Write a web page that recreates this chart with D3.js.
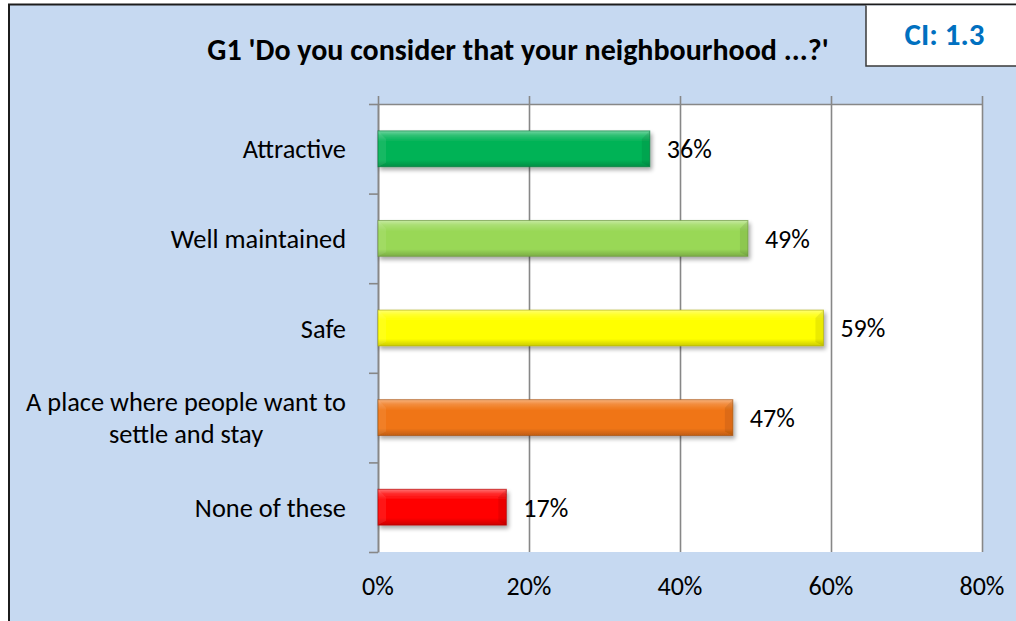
<!DOCTYPE html>
<html><head><meta charset="utf-8">
<script src="https://cdn.jsdelivr.net/npm/d3@7"></script>
<style>
  body { margin: 0; background: #fff; }
  text { font-family: Carlito, Calibri, Lato, sans-serif; fill: #000; }
</style>
</head><body>
<svg id="chart" width="1016" height="621"></svg>
<script>
// Survey answers for question G1
const categories = ["Attractive", "Well maintained", "Safe", "A place where people want to settle and stay", "None of these"];
const values = [0.36, 0.49, 0.59, 0.47, 0.17];
const barColors = ["#02b356", "#99d857", "#ffff00", "#f07515", "#ff0000"];
const tickValues = [0, 0.2, 0.4, 0.6, 0.8];
const titleText = "G1 'Do you consider that your neighbourhood ...?'";
const ciText = "CI: 1.3";

const W = 1016, H = 621;
const plot = { left: 378, right: 982, top: 104, bottom: 552 };

const svg = d3.select("#chart");
const defs = svg.append("defs");

// soft drop shadow under the bars
const shadow = defs.append("filter").attr("id", "barShadow")
  .attr("x", "-10%").attr("y", "-30%").attr("width", "130%").attr("height", "180%");
shadow.append("feGaussianBlur").attr("in", "SourceAlpha").attr("stdDeviation", 2.2).attr("result", "b");
shadow.append("feOffset").attr("in", "b").attr("dx", 2).attr("dy", 3).attr("result", "o");
shadow.append("feComponentTransfer").attr("in", "o").attr("result", "s")
  .append("feFuncA").attr("type", "linear").attr("slope", 0.35);
const merge = shadow.append("feMerge");
merge.append("feMergeNode").attr("in", "s");
merge.append("feMergeNode").attr("in", "SourceGraphic");

// vertical sheen across each bar face
const sheen = defs.append("linearGradient").attr("id", "sheen")
  .attr("x1", 0).attr("y1", 0).attr("x2", 0).attr("y2", 1);
[[0, "#fff", 0.45], [0.12, "#fff", 0.18], [0.3, "#fff", 0.0], [0.8, "#000", 0.0], [1, "#000", 0.2]]
  .forEach(([o, c, a]) => sheen.append("stop").attr("offset", o).attr("stop-color", c).attr("stop-opacity", a));

// chart area background with dark top/left frame
svg.append("rect").attr("x", 9).attr("y", 4.5).attr("width", W).attr("height", H)
  .attr("fill", "#c6d9f1");
svg.append("path").attr("d", `M9,${H}V4.5H${W}`)
  .attr("fill", "none").attr("stroke", "#1c1c1c").attr("stroke-width", 2);

// CI box in the top-right corner
svg.append("rect").attr("x", 866).attr("y", 5.5).attr("width", W - 866 + 2).attr("height", 60.5)
  .attr("fill", "#fff");
svg.append("path").attr("d", `M866,5.5V66H${W}`)
  .attr("fill", "none").attr("stroke", "#3a3a3a").attr("stroke-width", 1.5);
svg.append("text").attr("x", 944.5).attr("y", 45).attr("text-anchor", "middle")
  .style("font-size", "31px").style("font-weight", "bold").style("fill", "#0070c0")
  .text(ciText);

// title
svg.append("text").attr("x", 518).attr("y", 60).attr("text-anchor", "middle")
  .style("font-size", "30px").style("font-weight", "bold")
  .text(titleText);

// scales
const x = d3.scaleLinear().domain([0, 0.8]).range([plot.left, plot.right]);
const y = d3.scaleBand().domain(categories).range([plot.top, plot.bottom])
  .paddingInner(0.6).paddingOuter(0.3);
const bound = d3.scaleLinear().domain([0, categories.length]).range([plot.top, plot.bottom]);

// plot area
svg.append("rect").attr("x", plot.left).attr("y", plot.top)
  .attr("width", plot.right - plot.left).attr("height", plot.bottom - plot.top)
  .attr("fill", "#fff");

const gridColor = "#878787";

// vertical gridlines
const grid = svg.append("g").attr("transform", `translate(0,${plot.bottom})`)
  .call(d3.axisBottom(x).tickValues(tickValues).tickSize(-(plot.bottom - plot.top)).tickFormat(""));
grid.select(".domain").remove();
grid.selectAll("line").attr("stroke", gridColor).attr("stroke-width", 1.6);

// value axis along the top edge (ticks pointing up)
const topAxis = svg.append("g").attr("transform", `translate(0,${plot.top})`)
  .call(d3.axisTop(x).tickValues(tickValues).tickSize(8).tickSizeOuter(0).tickFormat(""));
topAxis.select(".domain").attr("stroke", gridColor).attr("stroke-width", 1.6);
topAxis.selectAll("line").attr("stroke", gridColor).attr("stroke-width", 1.6);

// category axis with ticks between categories
const catAxis = svg.append("g").attr("transform", `translate(${plot.left},0)`)
  .call(d3.axisLeft(bound).tickValues(d3.range(categories.length + 1)).tickSize(9).tickSizeOuter(0).tickFormat(""));
catAxis.select(".domain").attr("stroke", gridColor).attr("stroke-width", 1.6);
catAxis.selectAll("line").attr("stroke", gridColor).attr("stroke-width", 1.6);

// value tick labels below the plot
svg.append("g").selectAll("text").data(tickValues).join("text")
  .attr("x", d => x(d)).attr("y", 595).attr("text-anchor", "middle")
  .style("font-size", "26px")
  .text(d3.format(".0%"));

// bevelled bars
const bars = svg.append("g").selectAll("g").data(categories).join("g")
  .attr("filter", "url(#barShadow)");
bars.each(function (c, i) {
  const g = d3.select(this);
  const x0 = x(0), x1 = x(values[i]);
  const y0 = y(c), y1 = y(c) + y.bandwidth();
  const base = d3.color(barColors[i]);
  const bs = 8, bt = 4, bb = 4;
  g.append("rect").attr("x", x0).attr("y", y0).attr("width", x1 - x0).attr("height", y1 - y0)
    .attr("fill", base.formatHex());
  g.append("rect").attr("x", x0).attr("y", y0).attr("width", x1 - x0).attr("height", y1 - y0)
    .attr("fill", "url(#sheen)");
  // top-left corner highlight
  g.append("path").attr("d", `M${x0},${y0}L${x0 + bs},${y0 + bs}V${y1 - bb}L${x0},${y1}Z`)
    .attr("fill", "#fff").attr("fill-opacity", 0.08);
  // right face
  g.append("path").attr("d", `M${x1},${y0}L${x1 - bs},${y0 + bs}V${y1 - bb}L${x1},${y1}Z`)
    .attr("fill", "#000").attr("fill-opacity", 0.08);
  g.append("rect").attr("x", x0).attr("y", y0).attr("width", x1 - x0).attr("height", y1 - y0)
    .attr("fill", "none").attr("stroke", base.darker(1.2).formatHex()).attr("stroke-width", 1)
    .attr("stroke-opacity", 0.6);
});

// value labels at the bar ends
svg.append("g").selectAll("text").data(categories).join("text")
  .attr("x", (c, i) => x(values[i]) + 17)
  .attr("y", c => y(c) + y.bandwidth() / 2)
  .attr("dy", "0.36em")
  .style("font-size", "26px")
  .text((c, i) => d3.format(".0%")(values[i]));

// category labels: wrapped, lines centred within a right-aligned block
const labelRight = 346, maxLabel = 335, lineH = 32;
const labels = svg.append("g");
categories.forEach(c => {
  const words = c.split(" ");
  const lines = [];
  let cur = [];
  const probe = labels.append("text").style("font-size", "26.4px");
  words.forEach(w => {
    const trial = cur.concat(w).join(" ");
    probe.text(trial);
    if (probe.node().getComputedTextLength() > maxLabel && cur.length) {
      lines.push(cur.join(" "));
      cur = [w];
    } else cur.push(w);
  });
  lines.push(cur.join(" "));
  let maxW = 0;
  lines.forEach(l => { probe.text(l); maxW = Math.max(maxW, probe.node().getComputedTextLength()); });
  probe.remove();
  const cy = y(c) + y.bandwidth() / 2;
  const first = cy - (lines.length - 1) * lineH / 2;
  const t = labels.append("text").attr("text-anchor", "middle").style("font-size", "26.4px");
  lines.forEach((l, k) => {
    t.append("tspan").attr("x", labelRight - maxW / 2).attr("y", first + k * lineH)
      .attr("dy", "0.36em").text(l);
  });
});
</script></body></html>
